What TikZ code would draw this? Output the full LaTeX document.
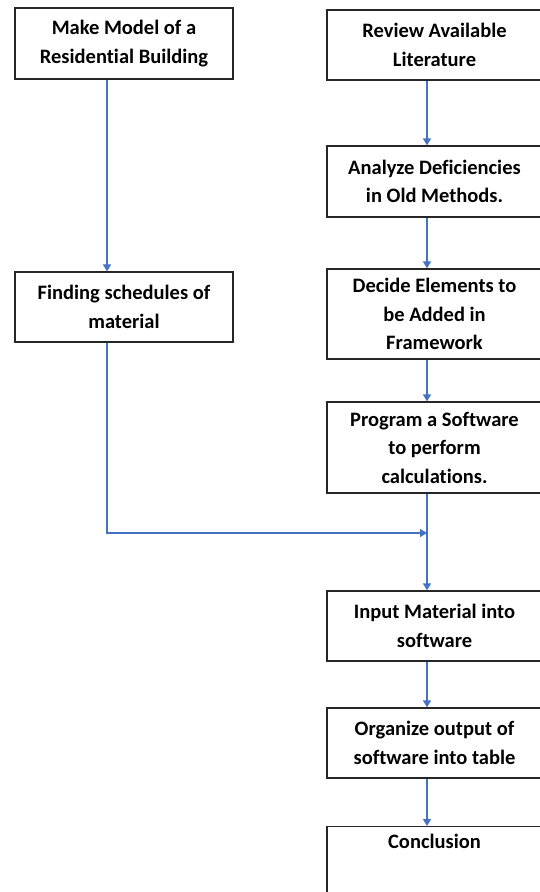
\documentclass[tikz,border=0pt]{standalone}
\usepackage{fontspec}
\setmainfont{Carlito}[Ligatures={NoCommon}]
\usetikzlibrary{arrows.meta}
\definecolor{flowblue}{HTML}{4472C4}
\begin{document}
\begin{tikzpicture}[x=1pt,y=-1pt,
  stepbox/.style={draw=black!85, line width=1.3pt, align=center,
    font=\fontsize{20.5}{28.5}\selectfont\bfseries, inner sep=0pt},
  leftbox/.style={stepbox, minimum width=218pt},
  rightbox/.style={stepbox, minimum width=215pt},
  flow/.style={draw=flowblue, line width=1.4pt, -{Triangle[width=8pt,length=7pt]}}]
\useasboundingbox (0,0) rectangle (540,892);
\fill[white] (0,0) rectangle (540,892);
\clip (0,0) rectangle (540,892);
\coordinate (lx) at (107,0);
\coordinate (rx) at (427,0);
\coordinate (j) at (427,533);
% left column
\node[leftbox, minimum height=71pt] (a) at (124,43.5) {Make Model of a\\Residential Building};
\node[leftbox, minimum height=70pt] (b) at (124,307) {Finding schedules of\\material};
% right column
\node[rightbox, minimum height=70pt] (r1) at (434.5,45) {Review Available\\Literature};
\node[rightbox, minimum height=71pt] (r2) at (434.5,181.5) {Analyze Deficiencies\\in Old Methods.};
\node[rightbox, minimum height=90pt] (r3) at (434.5,314) {Decide Elements to\\be Added in\\Framework};
\node[rightbox, minimum height=91pt] (r4) at (434.5,447.5) {Program a Software\\to perform\\calculations.};
\node[rightbox, minimum height=70pt] (r5) at (434.5,626) {Input Material into\\software};
\node[rightbox, minimum height=70pt] (r6) at (434.5,743) {Organize output of\\software into table};
\node[rightbox, anchor=north, inner ysep=7pt, text depth=80pt] (r7) at (434.5,826) {Conclusion};
% connectors
\draw[flow] (a.south -| lx) -- (b.north -| lx);
\draw[flow] (r1.south -| rx) -- (r2.north -| rx);
\draw[flow] (r2.south -| rx) -- (r3.north -| rx);
\draw[flow] (r3.south -| rx) -- (r4.north -| rx);
\draw[flow] (b.south -| lx) |- (j);
\draw[flow] (r4.south -| rx) -- (r5.north -| rx);
\draw[flow] (r5.south -| rx) -- (r6.north -| rx);
\draw[flow] (r6.south -| rx) -- (r7.north -| rx);
\end{tikzpicture}
\end{document}
